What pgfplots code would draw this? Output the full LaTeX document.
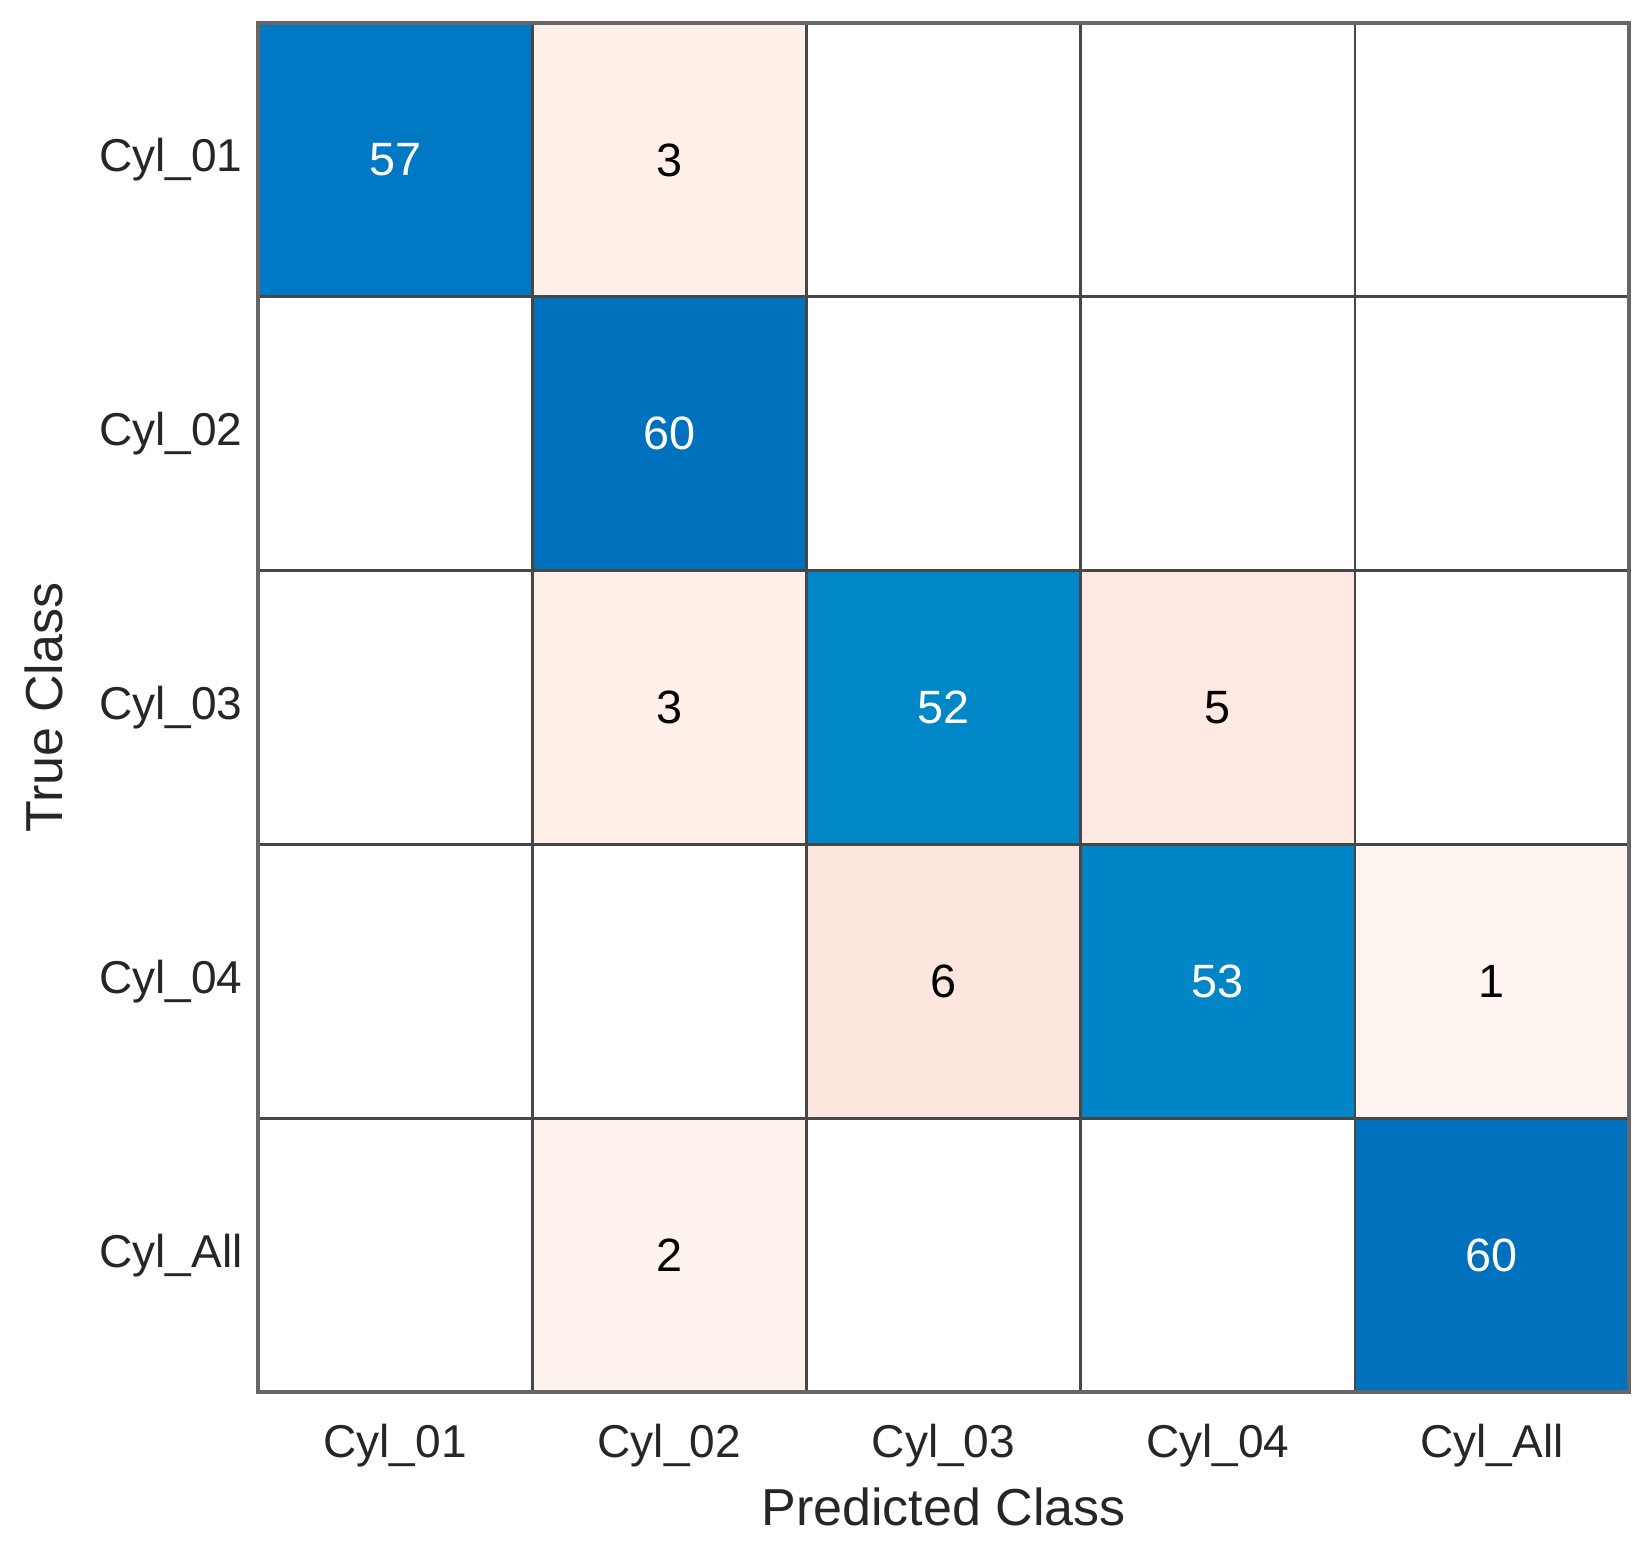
\documentclass[border=0pt]{standalone}
\usepackage{fontspec}
\setmainfont{Liberation Sans}
\usepackage{pgfplots}
\usepackage{pgfplotstable}
\pgfplotsset{compat=1.18}

\pgfplotstableread{
x y c
0 0 1
1 0 5
2 0 0
3 0 0
4 0 0
0 1 0
1 1 2
2 1 0
3 1 0
4 1 0
0 2 0
1 2 5
2 2 3
3 2 6
4 2 0
0 3 0
1 3 0
2 3 7
3 3 4
4 3 9
0 4 0
1 4 8
2 4 0
3 4 0
4 4 2
}\cells

\pgfplotstableread{
x y v
0 0 57
1 1 60
2 2 52
3 3 53
4 4 60
}\diag

\pgfplotstableread{
x y v
1 0 3
1 2 3
3 2 5
2 3 6
4 3 1
1 4 2
}\offdiag

\begin{document}
\begin{tikzpicture}
\begin{axis}[
  scale only axis,
  width=13.71cm, height=13.69cm,
  xmin=-0.5, xmax=4.5, ymin=-0.5, ymax=4.5,
  y dir=reverse,
  /pgf/number format/assume math mode=true,
  xtick={0,1,2,3,4}, ytick={0,1,2,3,4},
  xticklabels={Cyl\_01,Cyl\_02,Cyl\_03,Cyl\_04,Cyl\_All},
  yticklabels={Cyl\_01,Cyl\_02,Cyl\_03,Cyl\_04,Cyl\_All},
  minor xtick={0.5,1.5,2.5,3.5},
  minor ytick={0.5,1.5,2.5,3.5},
  major tick length=0pt, minor tick length=0pt,
  grid=minor,
  minor grid style={draw=black!72, line width=0.75pt},
  axis line style={draw=black!60, line width=0.9pt},
  axis on top,
  colormap={cm}{rgb255=(255,255,255) rgb255=(0,121,196) rgb255=(0,114,189)
    rgb255=(0,135,200) rgb255=(0,134,199) rgb255=(254,240,233)
    rgb255=(253,233,225) rgb255=(253,230,222) rgb255=(254,242,237)
    rgb255=(254,245,241)},
  colormap access=direct,
  ticklabel style={font=\fontsize{13.1}{16}\selectfont, text=black!85},
  xticklabel style={yshift=-0.2cm},
  yticklabel style={xshift=-0.03cm},
  xlabel={Predicted Class}, ylabel={True Class},
  every axis x label/.style={at={(axis description cs:0.5,-0.084)}, anchor=center,
    font=\fontsize{14.8}{17}\selectfont, text=black!85},
  every axis y label/.style={at={(axis description cs:-0.156,0.5)}, rotate=90, anchor=center,
    font=\fontsize{14.8}{17}\selectfont, text=black!85},
]
\addplot[matrix plot*, mesh/cols=5, point meta=explicit] table[meta=c] {\cells};
\addplot[draw=none, mark=none, forget plot, point meta=explicit,
  nodes near coords, nodes near coords align=center,
  every node near coord/.style={anchor=center, text=white, font=\fontsize{13.3}{16}\selectfont}]
  table[meta=v] {\diag};
\addplot[draw=none, mark=none, forget plot, point meta=explicit,
  nodes near coords, nodes near coords align=center,
  every node near coord/.style={anchor=center, text=black, font=\fontsize{13.3}{16}\selectfont}]
  table[meta=v] {\offdiag};
\end{axis}
\path ([xshift=-2.58cm,yshift=-1.62cm]current axis.south west) rectangle ([xshift=0.21cm,yshift=0.23cm]current axis.north east);
\end{tikzpicture}
\end{document}
